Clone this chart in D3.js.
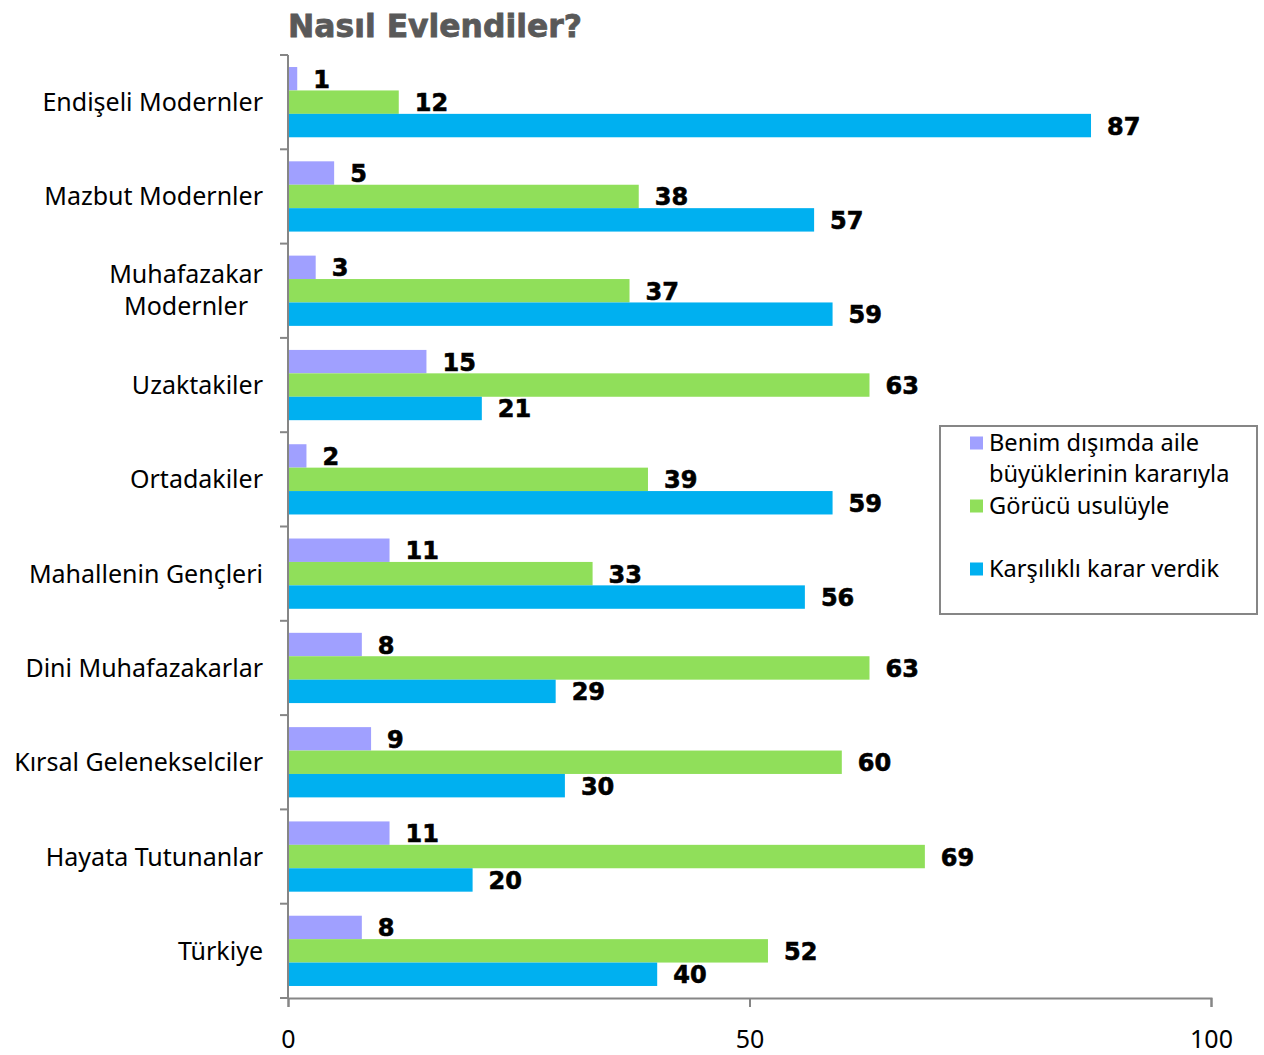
<!DOCTYPE html>
<html><head><meta charset="utf-8">
<script src="https://cdn.jsdelivr.net/npm/d3@7"></script>
<style>body{margin:0;background:#fff}</style>
</head><body>
<svg id="c" width="1264" height="1055"></svg>
<script>
const categories = ["Endişeli Modernler","Mazbut Modernler","Muhafazakar Modernler","Uzaktakiler","Ortadakiler","Mahallenin Gençleri","Dini Muhafazakarlar","Kırsal Gelenekselciler","Hayata Tutunanlar","Türkiye"];
const seriesNames = ["Benim dışımda aile büyüklerinin kararıyla","Görücü usulüyle","Karşılıklı karar verdik"];
const aileKarari = [1,5,3,15,2,11,8,9,11,8];
const gorucu = [12,38,37,63,39,33,63,60,69,52];
const karsilikli = [87,57,59,21,59,56,29,30,20,40];
const xTicks = [0,50,100];
const colors = ["#A0A0FF","#90DF5A","#00B0F0"];

const svg = d3.select("#c");
const x = d3.scaleLinear().domain([0,100]).range([288,1211]);
const y = d3.scaleBand().domain(categories).range([55,998]).paddingInner(0.255).paddingOuter(0.1275);
const ys = d3.scaleBand().domain([0,1,2]).range([0,y.bandwidth()]);
const seriesData = [aileKarari,gorucu,karsilikli];
const axisColor = "#868686";

// title
svg.append("text").attr("x",288).attr("y",37).text("Nasıl Evlendiler?")
  .attr("font-family","DejaVu Sans").attr("font-weight","bold").attr("font-size",32)
  .attr("fill","#595959").attr("stroke","#595959").attr("stroke-width",0.8)
  .attr("textLength",294).attr("lengthAdjust","spacingAndGlyphs");

// bars
seriesData.forEach((vals,si)=>{
  const g = svg.append("g");
  g.selectAll("rect").data(categories).join("rect")
    .attr("x",x(0)).attr("y",(d)=>y(d)+ys(si))
    .attr("width",(d,i)=>x(vals[i])-x(0)).attr("height",ys.bandwidth())
    .attr("fill",colors[si]);
  g.selectAll("text").data(categories).join("text")
    .attr("x",(d,i)=>x(vals[i])+16).attr("y",(d)=>y(d)+ys(si)+ys.bandwidth()/2+9)
    .text((d,i)=>vals[i])
    .attr("font-family","DejaVu Sans").attr("font-weight","bold").attr("font-size",24)
    .attr("fill","#000").attr("stroke","#000").attr("stroke-width",0.6);
});

// y axis
const step = y.step();
svg.append("line").attr("x1",x(0)).attr("x2",x(0)).attr("y1",55).attr("y2",998).attr("stroke",axisColor).attr("stroke-width",2);
for(let i=0;i<=categories.length;i++){
  const yy = 55 + i*step;
  svg.append("line").attr("x1",280).attr("x2",x(0)).attr("y1",yy).attr("y2",yy).attr("stroke",axisColor).attr("stroke-width",2);
}
// y labels
const lab = svg.append("g").attr("font-family","Noto Sans").attr("font-size",25).attr("fill","#000");
categories.forEach(c=>{
  const cy = y(c)+y.bandwidth()/2;
  if(c==="Muhafazakar Modernler"){
    lab.append("text").attr("x",186).attr("y",cy-8).attr("text-anchor","middle").text("Muhafazakar");
    lab.append("text").attr("x",186).attr("y",cy+24).attr("text-anchor","middle").text("Modernler");
  } else {
    lab.append("text").attr("x",263).attr("y",cy+9).attr("text-anchor","end").text(c);
  }
});

// x axis
const xa = svg.append("g").attr("transform","translate(0,998)")
  .call(d3.axisBottom(x).tickValues(xTicks).tickSize(9).tickPadding(23).tickFormat(d3.format("d")));
xa.select(".domain").attr("stroke",axisColor).attr("stroke-width",2);
xa.selectAll(".tick line").attr("stroke",axisColor).attr("stroke-width",2);
xa.selectAll(".tick text").attr("font-family","Noto Sans").attr("font-size",25).attr("fill","#000");

// legend
const lg = svg.append("g");
lg.append("rect").attr("x",940).attr("y",426).attr("width",317).attr("height",188).attr("fill","#fff").attr("stroke",axisColor).attr("stroke-width",2);
const legendRows = [
  {lines:["Benim dışımda aile","büyüklerinin kararıyla"], y:443},
  {lines:["Görücü usulüyle"], y:506},
  {lines:["Karşılıklı karar verdik"], y:569}
];
legendRows.forEach((r,i)=>{
  lg.append("rect").attr("x",970).attr("y",r.y-6.5).attr("width",13).attr("height",13).attr("fill",colors[i]);
  r.lines.forEach((t,j)=>{
    lg.append("text").attr("x",989).attr("y",r.y+8+j*31).text(t)
      .attr("font-family","Noto Sans").attr("font-size",23.6).attr("fill","#000");
  });
});
</script>
</body></html>
